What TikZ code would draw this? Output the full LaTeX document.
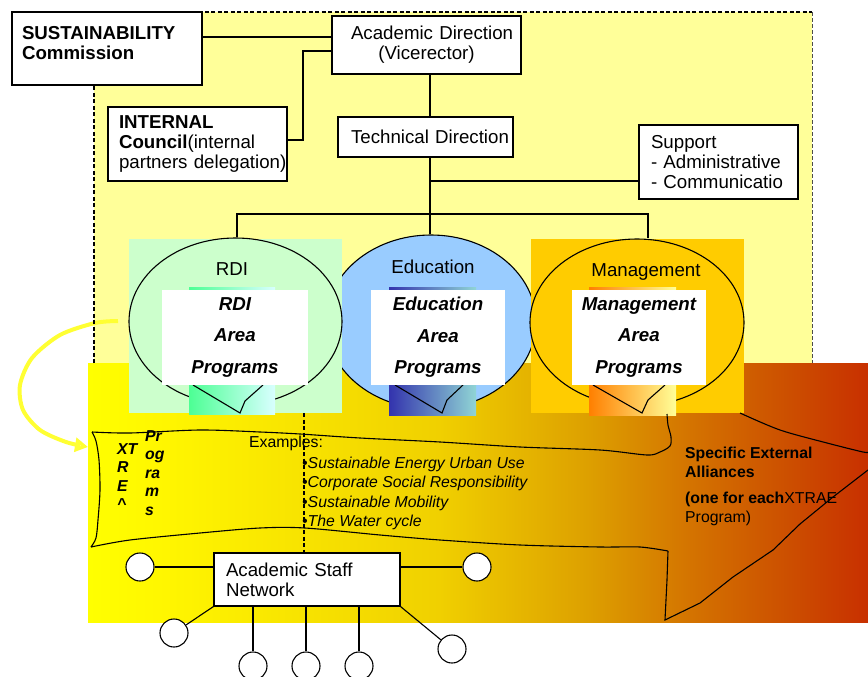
\documentclass[tikz,border=0pt]{standalone}
\usepackage{fontspec}
\setmainfont{Liberation Sans}
\usetikzlibrary{shapes.geometric,arrows.meta}

\definecolor{paleyellow}{HTML}{FFFF99}
\definecolor{rdigreen}{HTML}{CCFFCC}
\definecolor{edublue}{HTML}{99CCFF}
\definecolor{mgmtorange}{HTML}{FFCC00}
\definecolor{arrowyellow}{HTML}{FFFF33}
\definecolor{bandA}{HTML}{FFFF00}
\definecolor{bandB}{HTML}{FFF600}
\definecolor{bandC}{HTML}{F0D000}
\definecolor{bandD}{HTML}{DDA000}
\definecolor{bandE}{HTML}{D47400}
\definecolor{bandF}{HTML}{CC4E00}
\definecolor{bandG}{HTML}{C83000}

% tikz maps the path onto the middle 25bp..75bp of the shading
\pgfdeclarehorizontalshading{bandshade}{100bp}{color(0bp)=(bandA); color(25bp)=(bandA);
  color(30bp)=(bandB); color(47.5bp)=(bandC); color(57bp)=(bandD); color(63.5bp)=(bandE);
  color(70bp)=(bandF); color(75bp)=(bandG); color(100bp)=(bandG)}

\tikzset{
  orgbox/.style={draw, fill=white, line width=1.1pt, align=left, inner ysep=0pt,
    font=\fontsize{18.7}{20}\selectfont},
  bubble/.style={ellipse, draw, line width=1.1pt, inner sep=0pt},
  progbox/.style={fill=white, align=center, inner sep=0pt,
    font=\fontsize{18.7}{31.5}\selectfont\bfseries\itshape},
  link/.style={line width=1.1pt},
  sketch/.style={line width=1.1pt},
  peer/.style={circle, draw, fill=white, line width=1.1pt, minimum size=28pt, inner sep=0pt},
  small/.style={align=left, inner sep=0pt, anchor=north west}
}

\begin{document}
\begin{tikzpicture}[x=1pt,y=-1pt]
\useasboundingbox (0,0) rectangle (868,677);

% background areas
\fill[paleyellow] (94,12) rectangle (812,363);
\shade[shading=bandshade] (88,363) rectangle (868,622);

% the three areas (education first, the others lie over it)
\node[bubble, fill=edublue, minimum width=210pt, minimum height=174pt] (edu) at (431,322) {};
\fill[rdigreen] (129,239) rectangle (342,413);
\node[bubble, fill=rdigreen, minimum width=213pt, minimum height=167pt] (rdi) at (235.5,321.5) {};
\fill[mgmtorange] (531,239) rectangle (744,413);
\node[bubble, fill=mgmtorange, minimum width=214pt, minimum height=167pt] (mgmt) at (637,322.5) {};

% shaded strips under the program boxes
\shade[left color=green!60!cyan!70, right color=cyan!15] (189,287) rectangle (275,414);
\shade[left color=blue!60!black!80, right color=cyan!45!gray!60] (389,287) rectangle (476,415);
\shade[left color=orange, right color=paleyellow] (589,287) rectangle (676,415);

% callout tails
\draw[link] (193,385) -- (240,413) -- (245,401) -- (263,385);
\draw[link] (395,385) -- (442,413) -- (447,400) -- (463,385);
\draw[link] (593,385) -- (642,413) -- (648,400) -- (665,385);

% program boxes
\node[progbox, minimum width=146pt, minimum height=95pt] (rdiprog) at (235,337.5) {RDI\\Area\\Programs};
\node[progbox, minimum width=134pt, minimum height=95pt] (eduprog) at (438,337.5) {Education\\Area\\Programs};
\node[progbox, minimum width=134pt, minimum height=95pt] (mgmtprog) at (639,337.5) {Management\\Area\\Programs};

\node[font=\fontsize{18.7}{20}\selectfont] (rdititle) at (232,269) {RDI};
\node[font=\fontsize{18.7}{20}\selectfont] (edutitle) at (433,267) {Education};
\node[font=\fontsize{18.7}{20}\selectfont] (mgmttitle) at (646,272) {Management};

% hand drawn band and alliances wedge
\draw[sketch] plot[smooth, tension=.5] coordinates {(92,432) (130,433) (200,430) (260,432)
  (300,434) (360,438) (440,442) (520,447) (600,450) (647,455) (660,452) (670,446)
  (671,437) (668,425) (667,414)};
\draw[sketch] plot[smooth, tension=.5] coordinates {(92,432) (96,441) (99,460) (100,490)
  (98,520) (96,538) (91,547)};
\draw[sketch] plot[smooth, tension=.5] coordinates {(91,547) (130,540) (200,533) (260,528)
  (305,528) (380,535) (440,540) (520,545) (600,547) (640,547) (668,551)};
\draw[sketch] (668,551) -- (667,580) -- (665,620) -- (700,603) -- (733,577) -- (773,550)
  -- (800,524) -- (833,497) -- (868,470);
\draw[sketch] plot[smooth, tension=.5] coordinates {(740,413) (780,430) (827,443) (863,452) (868,452)};

% yellow arrow
\draw[arrowyellow, line width=4pt, -{Triangle[open, length=13pt, width=14pt]}]
  plot[smooth] coordinates {(118,321) (95,323) (60,335) (32,358) (20,385) (23,410)
  (40,430) (66,442) (88,447)};

% frame of the inner area
\draw[line width=1.6pt, dash pattern=on 4pt off 2.5pt] (94,363) -- (94,12) -- (812,12);
\draw[line width=0.7pt, dash pattern=on 4pt off 2pt, black!70] (812,12) -- (812,363);

% texts in the band
\node[small, font=\fontsize{15.8}{18.5}\selectfont\bfseries\itshape] (xtrae) at (117,443) {XT\\R\\E\\\textasciicircum};
\node[small, font=\fontsize{15.8}{18.5}\selectfont\bfseries\itshape] (progs) at (145,430) {Pr\\og\\ra\\m\\s};
\node[small, font=\fontsize{15.8}{19}\selectfont, anchor=west] (examples) at (249,443) {Examples:};
\node[small, font=\fontsize{15.8}{19.3}\selectfont\itshape] (cases) at (302,457)
  {\textbullet Sustainable Energy Urban Use\\\textbullet Corporate Social Responsibility\\
   \textbullet Sustainable Mobility\\\textbullet The Water cycle};
\node[small, font=\fontsize{15.8}{19}\selectfont] (alliances) at (685,447)
  {\textbf{Specific External}\\\textbf{Alliances}\\[7pt]\mbox{\textbf{(one for each}XTRAE}\\Program)};

% organisation boxes
\node[orgbox, minimum width=190pt, minimum height=73pt, text width=170pt, inner xsep=10pt] (sust)
  at (107,48.5) {\textbf{SUSTAINABILITY}\\\textbf{Commission}\\[-8pt]~};
\node[orgbox, minimum width=189pt, minimum height=58pt, text width=151pt, inner xsep=19pt, align=center] (acad)
  at (426.5,45) {\mbox{Academic Direction}\\(Vicerector)};
\node[orgbox, minimum width=179pt, minimum height=74pt, text width=157pt, inner xsep=11pt] (council)
  at (197.5,144) {\textbf{INTERNAL}\\\mbox{\textbf{Council}(internal}\\\mbox{partners delegation)}};
\node[orgbox, minimum width=175pt, minimum height=40pt, text width=149pt, inner xsep=13pt] (tech)
  at (425.5,137) {\mbox{Technical Direction}};
\node[orgbox, minimum width=159pt, minimum height=74pt, text width=135pt, inner xsep=12pt] (support)
  at (718.5,162) {Support\\\mbox{- Administrative}\\\mbox{- Communicatio}};

\coordinate (spine) at (430,0);
\coordinate (splittop) at (304,413);

\draw[link] (sust.east |- 0,37) -- (acad.west |- 0,37);
\draw[link] (acad.west |- 0,51) -- (303,51) |- (council.east |- 0,140);
\draw[link] (acad.south -| spine) -- (tech.north -| spine);
\draw[link] (tech.south -| spine) -- (edu.north -| spine);
\draw[link] (spine |- 0,181) -- (support.west |- 0,181);
\draw[link] (rdi.north -| 237,0) |- (spine |- 0,214) -| (mgmt.north -| 648,0);

% staff network
\node[orgbox, minimum width=186pt, minimum height=53pt, text width=162pt, inner xsep=12pt] (net)
  at (307,579.5) {\mbox{Academic Staff}\\Network};
\draw[line width=1.6pt, dash pattern=on 4pt off 2.5pt] (splittop) -- (net.north -| splittop);

\node[peer] (pw) at (140,567) {};
\node[peer] (pe) at (477,567) {};
\node[peer] (psw) at (174,633) {};
\node[peer] (ps1) at (253,666) {};
\node[peer] (ps2) at (306,666) {};
\node[peer] (ps3) at (359,666) {};
\node[peer] (pse) at (452,649) {};

\draw[link] (net.west |- pw) -- (pw);
\draw[link] (net.east |- pe) -- (pe);
\draw[link] (net.south west) -- (psw);
\foreach \p in {ps1,ps2,ps3}
  \draw[link] (net.south -| \p) -- (\p);
\draw[link] (net.south east) -- (pse);

\end{tikzpicture}
\end{document}
